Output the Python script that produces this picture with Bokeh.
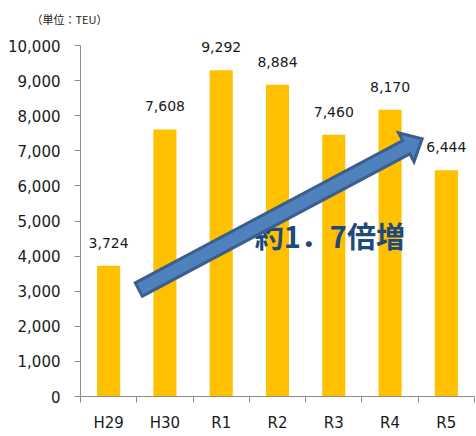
import math
from bokeh.plotting import figure
from bokeh.models import Range1d, FixedTicker, NumeralTickFormatter, LinearAxis
from bokeh.core.properties import value
from bokeh.embed import file_html
from bokeh.resources import INLINE

# ---- data ----
categories = ["H29", "H30", "R1", "R2", "R3", "R4", "R5"]
teu = [3724, 7608, 9292, 8884, 7460, 8170, 6444]
y_ticks = [0, 1000, 2000, 3000, 4000, 5000, 6000, 7000, 8000, 9000, 10000]
unit_text = "（単位：TEU）"
growth_text = "約1．7倍増"

# annotation anchors (data units: category index 0..7, TEU)
arrow_from = (1.036, 3048)
arrow_to = (6.07, 7342)
growth_pos = (4.43, 4590)
box_x = (2.878, 5.916)
box_y = (3875, 5214)

W, H = 476, 436
BL, BR, BT, BB = 80, 2, 30, 40
X_MAX, Y_AXIS_MAX = len(categories), 10000
fw = W - BL - BR
fh = H - BT - BB
AXIS_PX = 351  # pixel height of 0..10000
Y_TOP = Y_AXIS_MAX * fh / AXIS_PX

p = figure(width=W, height=H, output_backend="svg", toolbar_location=None,
           x_range=Range1d(0, X_MAX), y_range=Range1d(0, Y_TOP),
           min_border_left=BL, min_border_right=BR, min_border_top=BT, min_border_bottom=BB,
           x_axis_type=None, y_axis_type=None)
p.outline_line_color = None
p.background_fill_color = "white"
p.border_fill_color = "white"

p.title.text = unit_text
p.title.text_font = "Noto Sans CJK JP"
p.title.text_font_size = "11px"
p.title.text_font_style = "normal"
p.title.text_color = "#1a1a1a"
p.title.align = "left"
p.title.offset = -49
p.title.standoff = 7

centers = [i + 0.5 for i in range(len(categories))]

# y axis
yax = LinearAxis(ticker=FixedTicker(ticks=y_ticks), formatter=NumeralTickFormatter(format="0,0"),
                 bounds=(0, Y_AXIS_MAX))
yax.axis_line_color = "#8C8C8C"
yax.major_tick_line_color = "#8C8C8C"
yax.major_tick_out = 6
yax.major_tick_in = 0
yax.minor_tick_line_color = None
yax.major_label_standoff = 14
yax.major_label_text_font = "DejaVu Sans"
yax.major_label_text_font_size = "15px"
yax.major_label_text_color = "#1a1a1a"
p.add_layout(yax, "left")

# x axis: labels at centers, tick marks at category boundaries
xax = LinearAxis(ticker=FixedTicker(ticks=centers, minor_ticks=list(range(X_MAX + 1))))
xax.major_label_overrides = {c: lab for c, lab in zip(centers, categories)}
xax.axis_line_color = "#8C8C8C"
xax.major_tick_line_color = None
xax.major_tick_out = 0
xax.major_tick_in = 0
xax.minor_tick_line_color = "#8C8C8C"
xax.minor_tick_out = 6
xax.minor_tick_in = 0
xax.major_label_standoff = 11
xax.major_label_text_font = "DejaVu Sans"
xax.major_label_text_font_size = "15px"
xax.major_label_text_color = "#1a1a1a"
p.add_layout(xax, "below")

p.ygrid.ticker = FixedTicker(ticks=y_ticks)
p.ygrid.grid_line_color = "#B0B0B0"
p.xgrid.grid_line_color = None

# translucent text box (lightens grid only)
p.quad(left=[box_x[0]], right=[box_x[1]], bottom=[box_y[0]], top=[box_y[1]],
       fill_color="white", fill_alpha=0.6, line_color=None)

# bars
p.vbar(x=centers, top=teu, width=0.41, fill_color="#FFC000", line_color=None)

# value labels
p.text(x=centers, y=teu, text=[f"{v:,}" for v in teu], text_align="center",
       text_baseline="middle", y_offset=-23, text_font=value("DejaVu Sans"),
       text_font_size="14px", text_color="#1a1a1a")

# growth text
p.text(x=[growth_pos[0]], y=[growth_pos[1]], text=[growth_text], text_align="center",
       text_baseline="middle", text_font=value("Noto Sans CJK JP"), text_font_style="bold",
       text_font_size="29px", text_color="#1F497D")

# block arrow computed in pixel space
sx = fw / X_MAX
sy = fh / Y_TOP
x1, y1 = arrow_from[0] * sx, arrow_from[1] * sy
x2, y2 = arrow_to[0] * sx, arrow_to[1] * sy
L = math.hypot(x2 - x1, y2 - y1)
dx, dy = (x2 - x1) / L, (y2 - y1) / L
nx, ny = -dy, dx
hw, hh, hl = 7.5, 16.5, 18.0
bx, by = x2 - dx * hl, y2 - dy * hl
pts = [
    (x1 + nx * hw, y1 + ny * hw),
    (bx + nx * hw, by + ny * hw),
    (bx + nx * hh, by + ny * hh),
    (x2, y2),
    (bx - nx * hh, by - ny * hh),
    (bx - nx * hw, by - ny * hw),
    (x1 - nx * hw, y1 - ny * hw),
]
p.patch(x=[q[0] / sx for q in pts], y=[q[1] / sy for q in pts],
        fill_color="#4F81BD", line_color="#3A5F8F", line_width=3, line_join="miter")

open("out.html", "w").write(file_html(p, INLINE))
